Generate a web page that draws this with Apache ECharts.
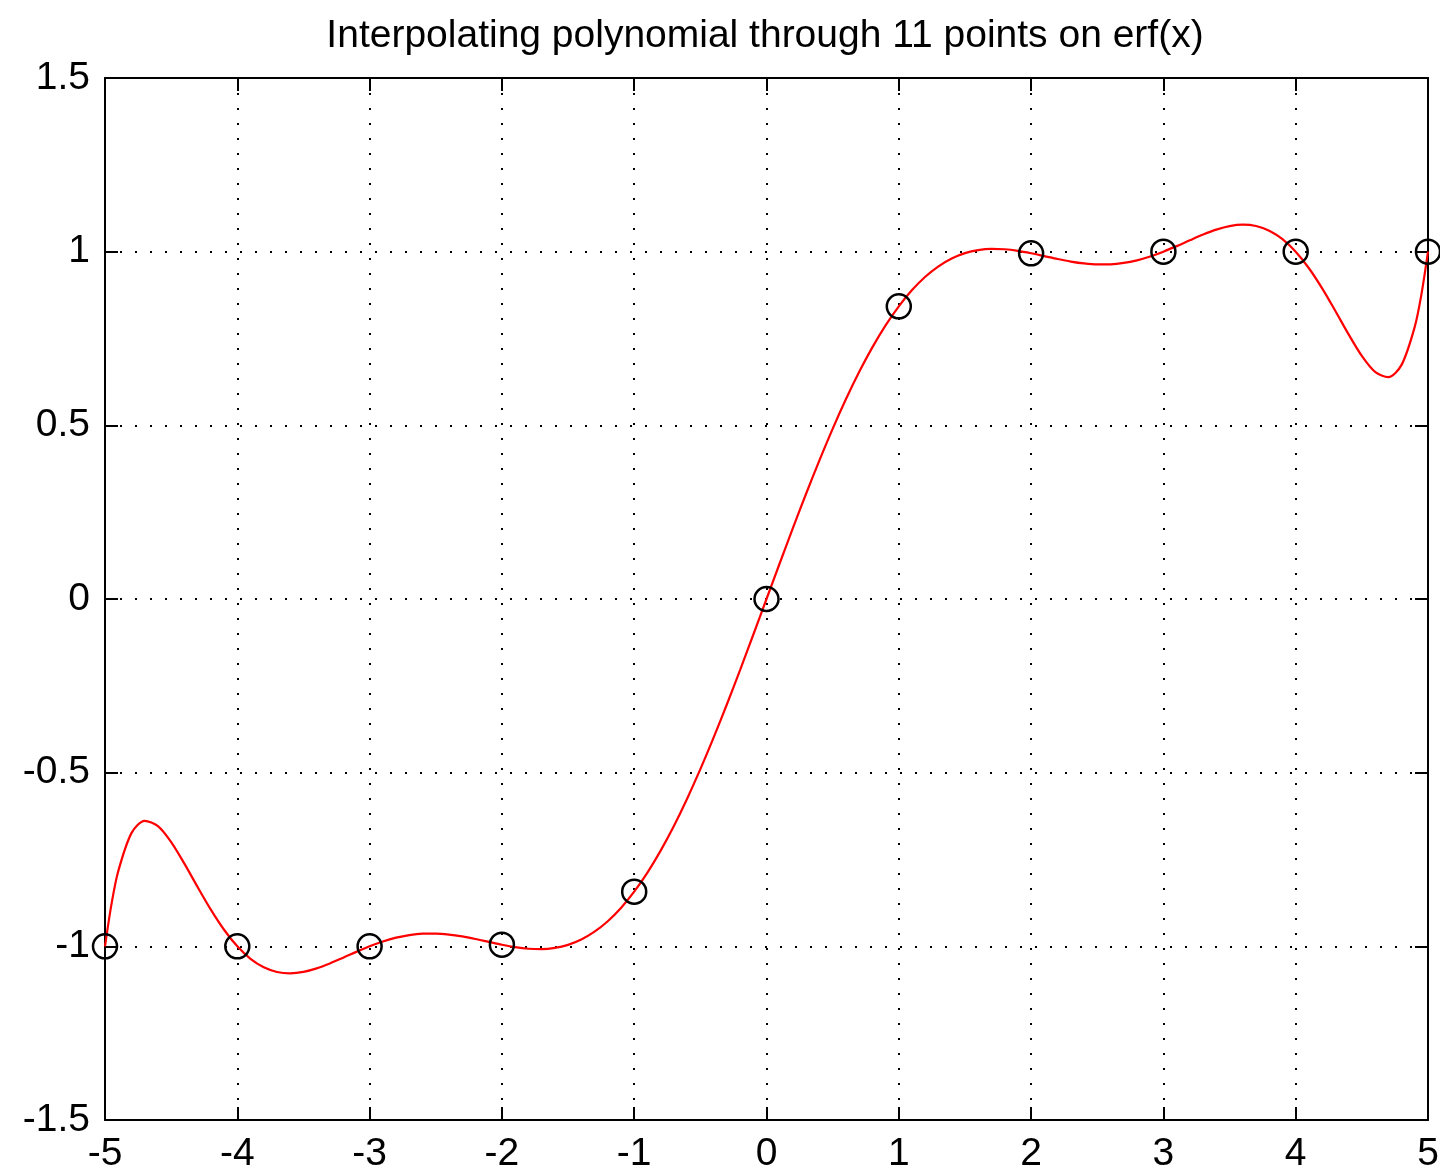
<!DOCTYPE html>
<html>
<head>
<meta charset="utf-8">
<script src="https://cdn.jsdelivr.net/npm/echarts@6/dist/echarts.min.js"></script>
<style>
html,body{margin:0;padding:0;background:#fff;}
#chart{width:1440px;height:1170px;}
</style>
</head>
<body>
<div id="chart"></div>
<script>
// Title and axis ranges
const titleText = 'Interpolating polynomial through 11 points on erf(x)';
const xTicks = [-5, -4, -3, -2, -1, 0, 1, 2, 3, 4, 5];
const yTicks = [-1.5, -1, -0.5, 0, 0.5, 1, 1.5];

// Interpolation nodes (circles): erf(x) at integer x
const nodeX = [-5, -4, -3, -2, -1, 0, 1, 2, 3, 4, 5];
const nodeY = [-1.0, -1.0, -0.99998, -0.99532, -0.84270, 0.0, 0.84270, 0.99532, 0.99998, 1.0, 1.0];

// Interpolating polynomial (red curve)
const curveX = [
  -5.0, -4.95, -4.9, -4.8, -4.7, -4.6, -4.5, -4.4, -4.3, -4.2, -4.1,
  -4.0, -3.9, -3.8, -3.7, -3.6, -3.5, -3.4, -3.3, -3.2, -3.1,
  -3.0, -2.9, -2.8, -2.7, -2.6, -2.5, -2.4, -2.3, -2.2, -2.1,
  -2.0, -1.9, -1.8, -1.7, -1.6, -1.5, -1.4, -1.3, -1.2, -1.1,
  -1.0, -0.9, -0.8, -0.7, -0.6, -0.5, -0.4, -0.3, -0.2, -0.1,
  0.0, 0.1, 0.2, 0.3, 0.4, 0.5, 0.6, 0.7, 0.8, 0.9,
  1.0, 1.1, 1.2, 1.3, 1.4, 1.5, 1.6, 1.7, 1.8, 1.9,
  2.0, 2.1, 2.2, 2.3, 2.4, 2.5, 2.6, 2.7, 2.8, 2.9,
  3.0, 3.1, 3.2, 3.3, 3.4, 3.5, 3.6, 3.7, 3.8, 3.9,
  4.0, 4.1, 4.2, 4.3, 4.4, 4.5, 4.6, 4.7, 4.8, 4.9, 4.95, 5.0
];
const curveY = [
  -1.00000, -0.87647, -0.78398, -0.67405, -0.63895, -0.65394, -0.69976, -0.76176, -0.82916, -0.89434, -0.95227,
  -1.00000, -1.03610, -1.06049, -1.07390, -1.07766, -1.07352, -1.06339, -1.04921, -1.03284, -1.01595,
  -0.99998, -0.98607, -0.97507, -0.96750, -0.96357, -0.96320, -0.96604, -0.97152, -0.97886, -0.98714,
  -0.99532, -1.00229, -1.00691, -1.00806, -1.00466, -0.99573, -0.98040, -0.95791, -0.92771, -0.88937,
  -0.84270, -0.78766, -0.72443, -0.65335, -0.57496, -0.48998, -0.39925, -0.30375, -0.20458, -0.10292,
  0.00000, 0.10292, 0.20458, 0.30375, 0.39925, 0.48998, 0.57496, 0.65335, 0.72443, 0.78766,
  0.84270, 0.88937, 0.92771, 0.95791, 0.98040, 0.99573, 1.00466, 1.00806, 1.00691, 1.00229,
  0.99532, 0.98714, 0.97886, 0.97152, 0.96604, 0.96320, 0.96357, 0.96750, 0.97507, 0.98607,
  0.99998, 1.01595, 1.03284, 1.04921, 1.06339, 1.07352, 1.07766, 1.07390, 1.06049, 1.03610,
  1.00000, 0.95227, 0.89434, 0.82916, 0.76176, 0.69976, 0.65394, 0.63895, 0.67405, 0.78398, 0.87647, 1.00000
];

const FONT = '"Liberation Sans", Arial, sans-serif';
const chart = echarts.init(document.getElementById('chart'), null, {renderer: 'canvas'});

const curveData = curveX.map((x, i) => [x, curveY[i]]);
const nodeData = nodeX.map((x, i) => [x, nodeY[i]]);

const xMin = xTicks[0], xMax = xTicks[xTicks.length - 1];
const yMin = yTicks[0], yMax = yTicks[yTicks.length - 1];

const tickStyle = {show: true, inside: true, length: 13, lineStyle: {color: '#000', width: 2}};
const axisLineStyle = {show: true, onZero: false, lineStyle: {color: '#000', width: 2}};
const gridLineStyle = {show: true, lineStyle: {color: '#000', width: 2, type: [2, 13], opacity: 1}};

chart.setOption({
  animation: false,
  backgroundColor: '#fff',
  title: {
    text: titleText,
    left: 760,
    textAlign: 'center',
    top: 12,
    textStyle: {fontFamily: FONT, fontSize: 39, fontWeight: 'normal', color: '#000'}
  },
  grid: {left: 105, right: 12, top: 78, bottom: 50, containLabel: false, outerBoundsMode: 'none'},
  xAxis: [
    {
      type: 'value', position: 'bottom', min: xMin, max: xMax, interval: 1,
      axisLine: axisLineStyle, axisTick: tickStyle, splitLine: gridLineStyle,
      axisLabel: {show: true, margin: 15, color: '#000', fontFamily: FONT, fontSize: 39,
        showMinLabel: true, showMaxLabel: true}
    },
    {
      type: 'value', position: 'top', min: xMin, max: xMax, interval: 1,
      axisLine: axisLineStyle, axisTick: tickStyle, splitLine: {show: false},
      axisLabel: {show: false}
    }
  ],
  yAxis: [
    {
      type: 'value', position: 'left', min: yMin, max: yMax, interval: 0.5,
      axisLine: axisLineStyle, axisTick: tickStyle, splitLine: gridLineStyle,
      axisLabel: {show: true, margin: 15, color: '#000', fontFamily: FONT, fontSize: 39,
        showMinLabel: true, showMaxLabel: true}
    },
    {
      type: 'value', position: 'right', min: yMin, max: yMax, interval: 0.5,
      axisLine: axisLineStyle, axisTick: tickStyle, splitLine: {show: false},
      axisLabel: {show: false}
    }
  ],
  series: [
    {
      type: 'line', xAxisIndex: 0, yAxisIndex: 0, data: curveData,
      showSymbol: false, smooth: 0.3, clip: false,
      lineStyle: {color: '#ff0000', width: 2.2}, z: 3
    },
    {
      type: 'scatter', xAxisIndex: 0, yAxisIndex: 0, data: nodeData,
      symbol: 'circle', symbolSize: 24, clip: false,
      itemStyle: {color: 'rgba(0,0,0,0)', borderColor: '#000', borderWidth: 2.5, opacity: 1},
      emphasis: {disabled: true}, z: 4
    }
  ]
});
</script>
</body>
</html>
